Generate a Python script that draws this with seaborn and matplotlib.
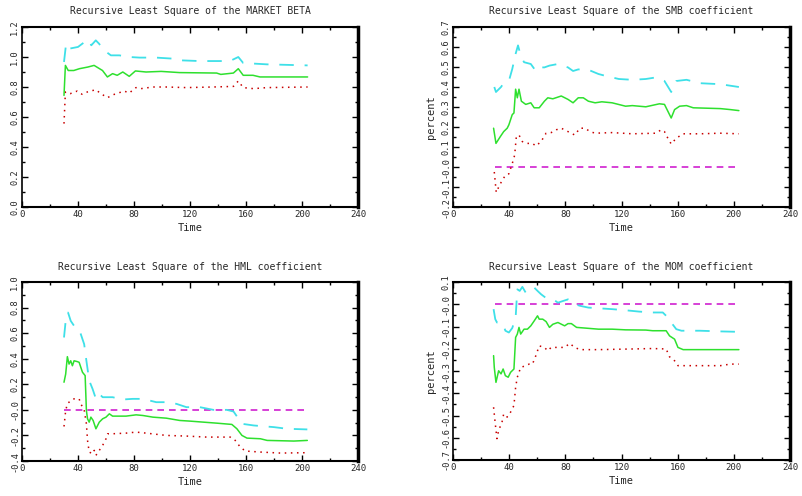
import matplotlib
matplotlib.use("Agg")
import matplotlib.pyplot as plt
import seaborn as sns
import numpy as np
from matplotlib.ticker import MultipleLocator

sns.set_style("white")
plt.rcParams['font.family'] = ['DejaVu Sans Mono', 'DejaVu Sans']

# ---------------- data ----------------
# Panel 1: MARKET BETA
mkt_est_t = [30, 31, 33, 37, 41, 47, 51.5, 57.5, 61, 64.7, 68, 72, 76.6, 81, 88.6, 99.4, 112.6, 139, 142, 151, 154.5, 158, 165, 170, 204]
mkt_est_v = [0.744, 0.944, 0.91, 0.91, 0.922, 0.933, 0.944, 0.91, 0.867, 0.889, 0.878, 0.9, 0.871, 0.907, 0.9, 0.904, 0.896, 0.893, 0.884, 0.893, 0.922, 0.878, 0.878, 0.867, 0.867]
mkt_up_t = [30, 31.5, 34, 40, 47, 49.5, 52.7, 55, 58.7, 63.5, 69.5, 76.6, 84, 95.8, 107.8, 112.6, 127, 148.5, 154.5, 158, 175, 204]
mkt_up_v = [0.967, 1.089, 1.056, 1.067, 1.116, 1.078, 1.111, 1.089, 1.044, 1.011, 1.011, 1.0, 0.996, 0.996, 0.989, 0.978, 0.973, 0.973, 1.0, 0.96, 0.951, 0.944]
mkt_lo_t = [30, 31, 34.5, 39.5, 43, 46.7, 52.7, 56.3, 61, 65.9, 73, 76.6, 81.4, 85, 93.4, 103, 117.4, 136.5, 151, 154.5, 158, 165.4, 175, 204]
mkt_lo_v = [0.556, 0.767, 0.756, 0.773, 0.751, 0.767, 0.782, 0.756, 0.729, 0.751, 0.773, 0.76, 0.796, 0.789, 0.8, 0.8, 0.796, 0.8, 0.804, 0.84, 0.796, 0.789, 0.796, 0.8]

# Panel 2: SMB
smb_est_t = [28.9, 30.6, 33.7, 36.1, 38.6, 39.8, 42.2, 43.4, 44.6, 45.8, 47, 48.7, 51.8, 55.4, 57.8, 61.4, 65.1, 67.5, 71.1, 77.1, 81.9, 85.5, 89.2, 92.8, 96.4, 101.2, 106, 113.3, 122.9, 127.7, 137.3, 147, 150.6, 153, 155.4, 157.8, 161.4, 166.3, 171.1, 190.4, 197.6, 203.6]
smb_est_v = [0.194, 0.118, 0.152, 0.177, 0.194, 0.211, 0.262, 0.27, 0.389, 0.346, 0.389, 0.329, 0.313, 0.321, 0.296, 0.296, 0.329, 0.346, 0.341, 0.355, 0.338, 0.321, 0.346, 0.346, 0.329, 0.321, 0.326, 0.321, 0.304, 0.307, 0.301, 0.316, 0.313, 0.279, 0.245, 0.287, 0.304, 0.307, 0.296, 0.292, 0.287, 0.282]
smb_up_t = [29.4, 30.6, 34.2, 36.1, 39.8, 42.2, 44.6, 46.3, 48.2, 50.6, 55.4, 59, 61.4, 65.1, 68.7, 74.7, 81.9, 85.5, 89.2, 96.4, 103.6, 108.4, 118.1, 127.7, 137.3, 144.6, 150.6, 155.4, 159, 166.3, 175.9, 190.4, 203.6]
smb_up_v = [0.40, 0.375, 0.40, 0.42, 0.43, 0.49, 0.566, 0.608, 0.557, 0.524, 0.515, 0.48, 0.498, 0.498, 0.507, 0.515, 0.498, 0.48, 0.488, 0.486, 0.465, 0.456, 0.44, 0.436, 0.44, 0.448, 0.43, 0.375, 0.43, 0.436, 0.419, 0.414, 0.40]
smb_lo_t = [29.4, 30.8, 32.5, 34.9, 37.3, 39.8, 42.2, 43.9, 45.1, 47, 49.4, 53, 56.6, 59, 62.7, 66.3, 69.9, 73.5, 77.1, 81.9, 86.7, 90.4, 94, 97.6, 101.2, 113.3, 127.7, 144.6, 148.2, 150.6, 153, 155.4, 159, 163.9, 175.9, 190.4, 203.6]
smb_lo_v = [-0.025, -0.127, -0.101, -0.068, -0.042, -0.034, 0.017, 0.059, 0.152, 0.16, 0.127, 0.118, 0.118, 0.105, 0.127, 0.169, 0.172, 0.186, 0.194, 0.177, 0.16, 0.194, 0.194, 0.177, 0.169, 0.172, 0.166, 0.169, 0.186, 0.177, 0.144, 0.115, 0.144, 0.166, 0.166, 0.169, 0.166]

# Panel 3: HML
hml_est_t = [30, 31.2, 32.4, 33.6, 34.8, 36, 37.2, 39.6, 40.8, 43.2, 45.1, 46, 46.8, 48, 49.2, 50.8, 52.8, 55.2, 57.6, 60, 62.4, 64.7, 74.3, 81.5, 86.3, 93.5, 103.1, 112.7, 119.9, 129.5, 139.1, 149.9, 153.5, 157.1, 160.7, 170.3, 175.1, 194.2, 203.8]
hml_est_v = [0.216, 0.28, 0.416, 0.358, 0.384, 0.345, 0.384, 0.377, 0.372, 0.294, 0.268, -0.005, -0.07, -0.096, -0.057, -0.083, -0.148, -0.096, -0.07, -0.057, -0.031, -0.049, -0.049, -0.039, -0.044, -0.057, -0.065, -0.083, -0.088, -0.096, -0.104, -0.114, -0.148, -0.2, -0.221, -0.226, -0.239, -0.244, -0.239]
hml_up_t = [30, 31.2, 32.9, 34.8, 37.2, 39.6, 42, 44.4, 46, 48, 50.4, 52.8, 55.2, 57.6, 64.7, 71.9, 79.1, 86.3, 95.9, 103.1, 110.3, 117.5, 127.1, 136.7, 146.3, 151.1, 154.7, 157.1, 165.5, 179.9, 189.4, 203.8]
hml_up_v = [0.566, 0.696, 0.761, 0.696, 0.657, 0.644, 0.592, 0.514, 0.384, 0.229, 0.164, 0.086, 0.125, 0.099, 0.099, 0.081, 0.086, 0.086, 0.06, 0.06, 0.047, 0.021, 0.021, 0.0, 0.0, -0.013, -0.07, -0.109, -0.122, -0.135, -0.148, -0.153]
hml_lo_t = [30, 31.2, 32.4, 34.8, 37.2, 40.8, 42, 44.4, 46, 46.8, 48, 50.4, 51.6, 52.8, 55.2, 57.6, 60, 61.2, 64.7, 74.3, 81.5, 88.7, 103.1, 117.5, 131.9, 148.7, 152.3, 155.9, 159.5, 170.3, 184.7, 203.8]
hml_lo_v = [-0.13, -0.005, 0.047, 0.073, 0.086, 0.086, 0.047, 0.0, -0.109, -0.239, -0.33, -0.343, -0.317, -0.356, -0.317, -0.278, -0.226, -0.187, -0.187, -0.182, -0.174, -0.182, -0.2, -0.205, -0.213, -0.213, -0.239, -0.291, -0.322, -0.33, -0.338, -0.335]

# Panel 4: MOM
mom_est_t = [28.9, 29.4, 30.6, 32.5, 34.2, 35.7, 37.3, 39.3, 41, 43.4, 44.6, 45.8, 47, 48.2, 50.6, 53, 55.4, 57.8, 60.2, 61.4, 63.9, 66.3, 68.7, 71.1, 74.7, 79.5, 81.9, 84.3, 88, 94, 103.6, 113.3, 122.9, 137.3, 142.2, 151.8, 154.2, 157.8, 160.2, 163.9, 203.6]
mom_est_v = [-0.231, -0.284, -0.351, -0.299, -0.313, -0.291, -0.321, -0.328, -0.306, -0.291, -0.149, -0.134, -0.104, -0.134, -0.112, -0.112, -0.097, -0.075, -0.052, -0.067, -0.067, -0.078, -0.104, -0.09, -0.082, -0.097, -0.087, -0.087, -0.104, -0.107, -0.112, -0.112, -0.115, -0.116, -0.119, -0.119, -0.142, -0.157, -0.194, -0.204, -0.204]
mom_up_t = [28.9, 30.1, 31.3, 33.7, 35.7, 37.3, 39.8, 42.2, 44.6, 45.8, 47.5, 49.4, 51.8, 54.2, 57.8, 60.2, 62.7, 67.5, 72.3, 74.7, 81.9, 85.5, 90.4, 96.4, 103.6, 113.3, 122.9, 132.5, 142.2, 149.4, 151.8, 155.4, 159, 162.7, 175.9, 190.4, 203.6]
mom_up_v = [-0.022, -0.067, -0.082, -0.082, -0.09, -0.119, -0.127, -0.107, -0.06, 0.067, 0.06, 0.078, 0.052, 0.067, 0.075, 0.06, 0.045, 0.022, 0.018, 0.007, 0.022, 0.003, -0.007, -0.015, -0.018, -0.022, -0.027, -0.033, -0.037, -0.037, -0.052, -0.082, -0.112, -0.119, -0.119, -0.122, -0.124]
mom_lo_t = [28.9, 30.1, 31.3, 32.5, 34.9, 36.1, 38.6, 41, 43.4, 44.6, 45.8, 48.2, 51.8, 54.2, 56.6, 59, 61.4, 65.1, 67.5, 69.9, 79.5, 83.1, 86.7, 90.4, 103.6, 127.7, 142.2, 151.8, 154.2, 157.8, 160.2, 163.9, 190.4, 197.6, 203.6]
mom_lo_v = [-0.463, -0.537, -0.604, -0.567, -0.53, -0.493, -0.507, -0.485, -0.455, -0.373, -0.328, -0.284, -0.276, -0.269, -0.269, -0.231, -0.187, -0.194, -0.209, -0.194, -0.194, -0.176, -0.194, -0.204, -0.204, -0.201, -0.199, -0.201, -0.236, -0.254, -0.276, -0.276, -0.276, -0.269, -0.269]

zero_t = [30, 204]
zero_v = [0, 0]

titles = ["Recursive Least Square of the MARKET BETA",
          "Recursive Least Square of the SMB coefficient",
          "Recursive Least Square of the HML coefficient",
          "Recursive Least Square of the MOM coefficient"]
xticks = [0, 40, 80, 120, 160, 200, 240]
yticks_list = [[0.0, 0.2, 0.4, 0.6, 0.8, 1.0, 1.2],
               [-0.2, -0.1, 0.0, 0.1, 0.2, 0.3, 0.4, 0.5, 0.6, 0.7],
               [-0.4, -0.2, 0.0, 0.2, 0.4, 0.6, 0.8, 1.0],
               [-0.7, -0.6, -0.5, -0.4, -0.3, -0.2, -0.1, 0.0, 0.1]]
ytick_labels = [["0.0", "0.2", "0.4", "0.6", "0.8", "1.0", "1.2"],
                ["-0.2", "-0.1", "-0.0", "0.1", "0.2", "0.3", "0.4", "0.5", "0.6", "0.7"],
                ["-0.4", "-0.2", "-0.0", "0.2", "0.4", "0.6", "0.8", "1.0"],
                ["-0.7", "-0.6", "-0.5", "-0.4", "-0.3", "-0.2", "-0.1", "-0.0", "0.1"]]
ylabels = ["", "percent", "", "percent"]

panels = [
    (mkt_est_t, mkt_est_v, mkt_up_t, mkt_up_v, mkt_lo_t, mkt_lo_v),
    (smb_est_t, smb_est_v, smb_up_t, smb_up_v, smb_lo_t, smb_lo_v),
    (hml_est_t, hml_est_v, hml_up_t, hml_up_v, hml_lo_t, hml_lo_v),
    (mom_est_t, mom_est_v, mom_up_t, mom_up_v, mom_lo_t, mom_lo_v),
]

# ---------------- layout ----------------
W, H = 802, 496
fig = plt.figure(figsize=(W / 100, H / 100), dpi=100)
boxes = [(22, 27, 358, 207), (453, 27, 790, 207), (22, 282, 358, 461), (453, 282, 790, 460)]

GREEN = "#2ee02e"
CYAN = "#3ee0e8"
RED = "#c80000"
MAGENTA = "#d020d0"
FS = 7

for i, (box, dat) in enumerate(zip(boxes, panels)):
    l, t, r, b = box
    ax = fig.add_axes([l / W, 1 - b / H, (r - l) / W, (b - t) / H])
    est_t, est_v, up_t, up_v, lo_t, lo_v = dat
    sns.lineplot(x=zero_t, y=zero_v, ax=ax, color=MAGENTA, lw=1.2,
                 linestyle=(0, (4, 3)), estimator=None, sort=False, clip_on=False)
    sns.lineplot(x=up_t, y=up_v, ax=ax, color=CYAN, lw=1.3,
                 linestyle=(0, (8, 6)), estimator=None, sort=False)
    sns.lineplot(x=lo_t, y=lo_v, ax=ax, color=RED, lw=1.1,
                 linestyle=(0, (1, 3)), estimator=None, sort=False)
    sns.lineplot(x=est_t, y=est_v, ax=ax, color=GREEN, lw=1.1,
                 estimator=None, sort=False)

    yt = yticks_list[i]
    ax.set_xlim(0, 240)
    ax.set_ylim(yt[0], yt[-1])
    ax.set_xticks(xticks)
    ax.set_xticklabels([str(v) for v in xticks], fontsize=6.5)
    ax.set_yticks(yt)
    ax.set_yticklabels(ytick_labels[i], fontsize=6.2, rotation=90, va="center")
    ax.xaxis.set_minor_locator(MultipleLocator(20))
    ax.yaxis.set_minor_locator(MultipleLocator((yt[1] - yt[0]) / 2))
    ax.tick_params(which="both", direction="in", top=True, right=True,
                   bottom=True, left=True, color="black")
    ax.tick_params(which="major", length=4, width=1, pad=2)
    ax.tick_params(which="minor", length=2.5, width=1)
    for side, lw in [("left", 1.2), ("bottom", 1.5), ("top", 1.5), ("right", 2.5)]:
        ax.spines[side].set_visible(True)
        ax.spines[side].set_color("black")
        ax.spines[side].set_linewidth(lw)
    ax.set_title(titles[i], fontsize=FS, pad=9)
    ax.set_xlabel("Time", fontsize=FS + 0.5, labelpad=3)
    ax.set_ylabel(ylabels[i], fontsize=FS + 0.5, labelpad=4)
    ax.grid(False)

fig.savefig("out.png", dpi=100)
